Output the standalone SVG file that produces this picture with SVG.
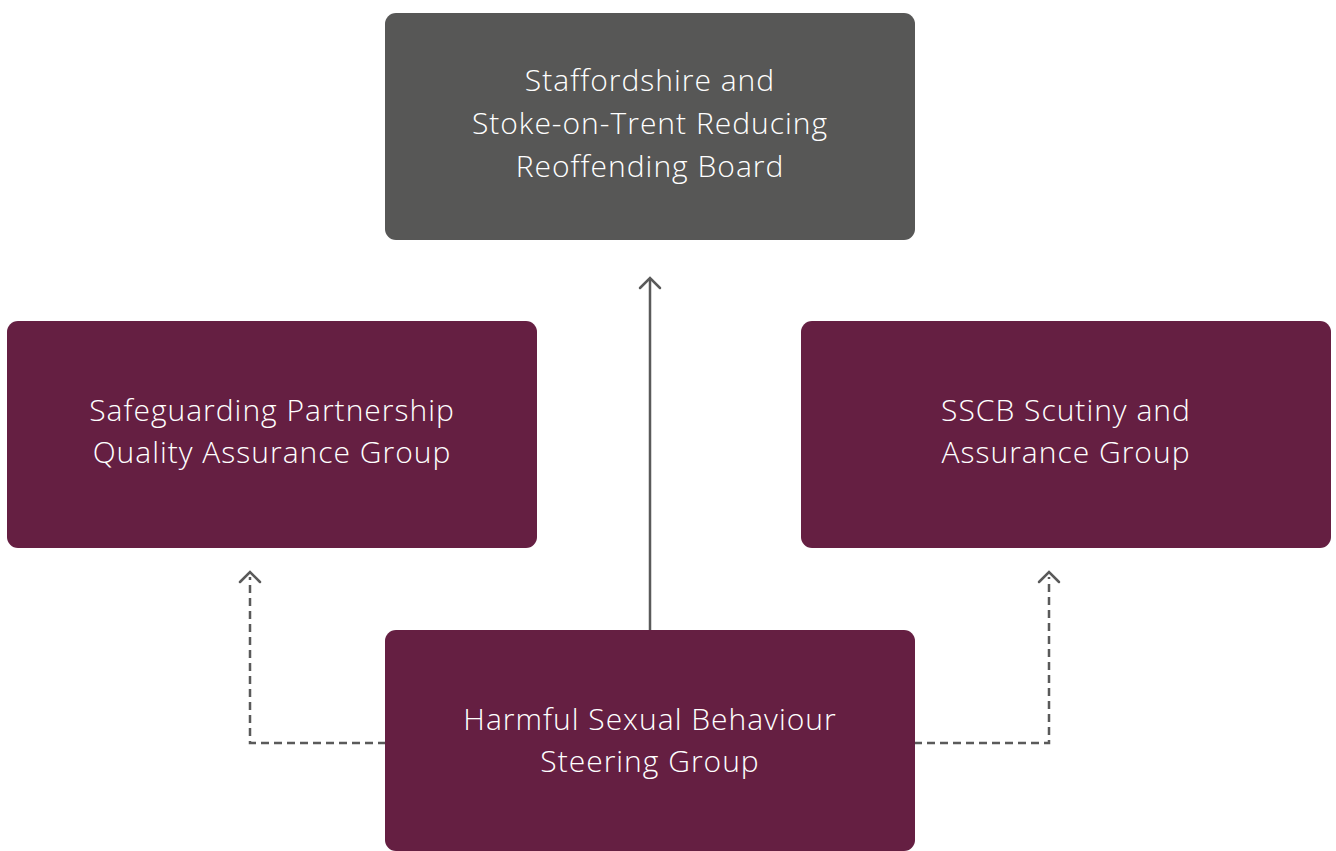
<svg xmlns="http://www.w3.org/2000/svg" width="1336" height="851" viewBox="0 0 1336 851">
  <defs>
    <style>
      .box-grey { fill: #575756; }
      .box-maroon { fill: #651f42; }
      .label { font-family: "Open Sans", Lato, "Liberation Sans", sans-serif; font-weight: 300; font-size: 30px; letter-spacing: 1px; fill: #ffffff; text-anchor: middle; }
      .link { fill: none; stroke: #5a5a5a; stroke-width: 2.5; }
      .dashed { stroke-dasharray: 8 5; }
      .head { fill: none; stroke: #5a5a5a; stroke-width: 2.5; stroke-linecap: round; stroke-linejoin: miter; }
    </style>
  </defs>
  <rect width="1336" height="851" fill="#ffffff"/>

  <!-- connectors -->
  <g id="connectors">
    <line class="link" x1="650" y1="630" x2="650" y2="279"/>
    <polyline class="head" points="640,288 650,278 660,288"/>

    <polyline class="link dashed" points="386,743 250,743 250,577"/>
    <polyline class="head" points="240,582 250,572 260,582"/>

    <polyline class="link dashed" points="914,743 1049,743 1049,577"/>
    <polyline class="head" points="1039,582 1049,572 1059,582"/>
  </g>

  <!-- nodes -->
  <g id="board">
    <rect class="box-grey" x="385" y="13" width="530" height="227" rx="11"/>
    <text class="label" x="650" y="91">Staffordshire and</text>
    <text class="label" x="650" y="134">Stoke-on-Trent Reducing</text>
    <text class="label" x="650" y="177">Reoffending Board</text>
  </g>

  <g id="safeguarding">
    <rect class="box-maroon" x="7" y="321" width="530" height="227" rx="11"/>
    <text class="label" x="272" y="421">Safeguarding Partnership</text>
    <text class="label" x="272" y="463">Quality Assurance Group</text>
  </g>

  <g id="sscb">
    <rect class="box-maroon" x="801" y="321" width="530" height="227" rx="11"/>
    <text class="label" x="1066" y="421">SSCB Scutiny and</text>
    <text class="label" x="1066" y="463">Assurance Group</text>
  </g>

  <g id="hsb">
    <rect class="box-maroon" x="385" y="630" width="530" height="221" rx="11"/>
    <text class="label" x="650" y="730">Harmful Sexual Behaviour</text>
    <text class="label" x="650" y="772">Steering Group</text>
  </g>
</svg>
